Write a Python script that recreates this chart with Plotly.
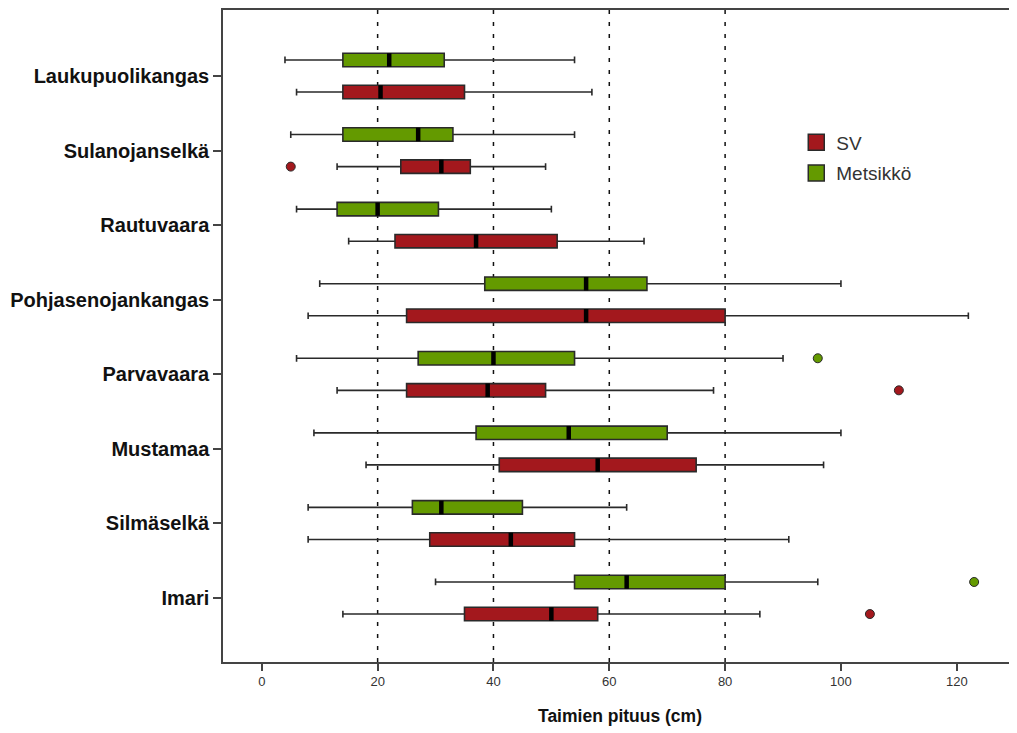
import plotly.graph_objects as go

categories = ["Laukupuolikangas", "Sulanojanselkä", "Rautuvaara", "Pohjasenojankangas",
              "Parvavaara", "Mustamaa", "Silmäselkä", "Imari"]

# Metsikkö (green)
met_low = [4, 5, 6, 10, 6, 9, 8, 30]
met_q1 = [14, 14, 13, 38.5, 27, 37, 26, 54]
met_med = [22, 27, 20, 56, 40, 53, 31, 63]
met_q3 = [31.5, 33, 30.5, 66.5, 54, 70, 45, 80]
met_high = [54, 54, 50, 100, 90, 100, 63, 96]
met_out_cat = ["Parvavaara", "Imari"]
met_out_val = [96, 123]

# SV (red)
sv_low = [6, 13, 15, 8, 13, 18, 8, 14]
sv_q1 = [14, 24, 23, 25, 25, 41, 29, 35]
sv_med = [20.5, 31, 37, 56, 39, 58, 43, 50]
sv_q3 = [35, 36, 51, 80, 49, 75, 54, 58]
sv_high = [57, 49, 66, 122, 78, 97, 91, 86]
sv_out_cat = ["Sulanojanselkä", "Parvavaara", "Imari"]
sv_out_val = [5, 110, 105]

ref_lines = [20, 40, 60, 80]
x_ticks = [0, 20, 40, 60, 80, 100, 120]

GREEN = "#649A00"
RED = "#A3181D"
EDGE = "#2a2a2a"

fig = go.Figure()


def add_group(name, color, low, q1, med, q3, high, out_cat, out_val, group, rank):
    fig.add_trace(go.Box(
        name=name, orientation="h", y=categories,
        lowerfence=low, q1=q1, median=med, q3=q3, upperfence=high,
        boxpoints=False,
        fillcolor=color, line=dict(color=EDGE, width=1.6),
        whiskerwidth=0.5, offsetgroup=group, alignmentgroup="a",
        showlegend=False, hoverinfo="skip",
    ))
    # thick median bar
    fig.add_trace(go.Box(
        name=name + " median", orientation="h", y=categories,
        lowerfence=med, q1=med, median=med, q3=med, upperfence=med,
        boxpoints=False, fillcolor="black", line=dict(color="black", width=4.5),
        whiskerwidth=0, offsetgroup=group, alignmentgroup="a",
        showlegend=False, hoverinfo="skip",
    ))
    # outliers
    fig.add_trace(go.Box(
        name=name + " outliers", orientation="h", y=out_cat, x=out_val,
        boxpoints="all", pointpos=0, jitter=0,
        fillcolor="rgba(0,0,0,0)", line=dict(color="rgba(0,0,0,0)", width=0),
        marker=dict(color=color, size=9, line=dict(color=EDGE, width=1)),
        whiskerwidth=0, offsetgroup=group, alignmentgroup="a",
        showlegend=False, hoverinfo="skip",
    ))
    # legend entry
    fig.add_trace(go.Scatter(
        name=name, x=[None], y=[None], mode="markers",
        marker=dict(symbol="square", size=16, color=color, line=dict(color=EDGE, width=1.5)),
        legendgroup=name, legendrank=rank, showlegend=True, hoverinfo="skip",
    ))


add_group("Metsikkö", GREEN, met_low, met_q1, met_med, met_q3, met_high, met_out_cat, met_out_val, "g1", 2)
add_group("SV", RED, sv_low, sv_q1, sv_med, sv_q3, sv_high, sv_out_cat, sv_out_val, "g2", 1)

for v in ref_lines:
    fig.add_shape(type="line", xref="x", yref="paper", x0=v, x1=v, y0=0, y1=1,
                  line=dict(color="#111", width=1.5, dash="4px,8px"), layer="below")

fig.update_layout(
    width=1009, height=725,
    margin=dict(l=215, r=0, t=2, b=71),
    paper_bgcolor="white", plot_bgcolor="white",
    boxmode="group", boxgap=0.14, boxgroupgap=0.58,
    legend=dict(x=0.722, y=0.826, xanchor="left", yanchor="top",
                font=dict(family="Liberation Sans, Arial", size=19, color="#333"),
                bgcolor="rgba(0,0,0,0)", itemwidth=30, tracegroupgap=3),
    font=dict(family="Liberation Sans, Arial", color="#222"),
)

fig.update_xaxes(
    range=[-6.7, 130.4], tickvals=x_ticks, ticktext=[str(t) for t in x_ticks],
    showgrid=False, zeroline=False, showline=True, linecolor="#444", linewidth=1.5,
    mirror=True, ticks="outside", ticklen=7, tickcolor="#444", tickwidth=1.5,
    tickfont=dict(family="Liberation Sans Narrow, Arial Narrow, Liberation Sans", size=13, color="#333"),
    title=dict(text="<b>Taimien pituus (cm)</b>", font=dict(family="Liberation Sans, Arial", size=17.5, color="#111"), standoff=21),
)
fig.update_yaxes(
    type="category", categoryorder="array", categoryarray=categories,
    range=[7.858, -0.885], showgrid=False, zeroline=False,
    showline=True, linecolor="#444", linewidth=1.5, mirror=False,
    ticks="outside", ticklen=8, tickcolor="#444", tickwidth=1.5,
    tickfont=dict(family="Liberation Sans, Arial", size=20, color="#111"),
    tickprefix="<b>", ticksuffix="</b>",
)

fig.write_html("out.html")
